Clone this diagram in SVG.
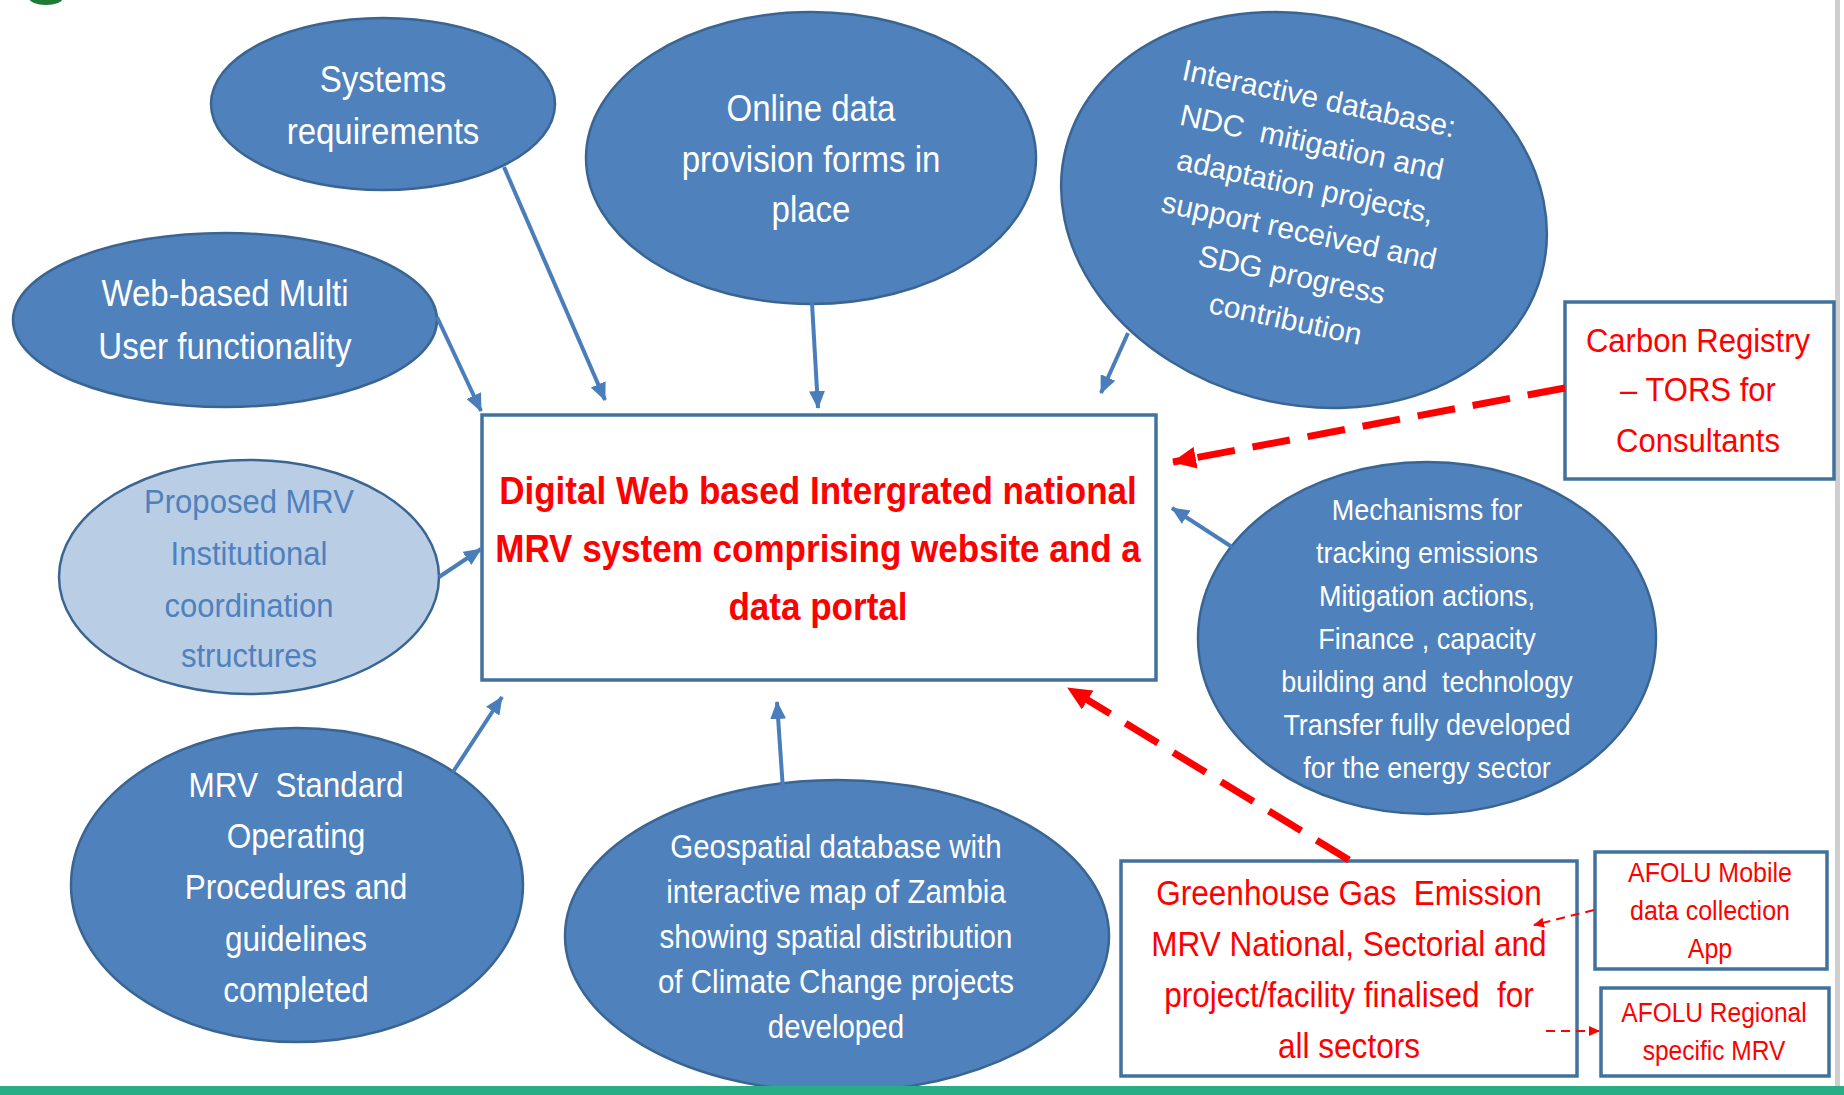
<svg xmlns="http://www.w3.org/2000/svg" width="1844" height="1095" viewBox="0 0 1844 1095">
<style>
text{font-family:"Liberation Sans",Arial,sans-serif;text-anchor:middle}
.bl{fill:#4f81bd;stroke:#3a6592;stroke-width:2.5}
.lt{fill:#b9cde5;stroke:#3a6592;stroke-width:2.5}
.w{fill:#ffffff}
.lb{fill:#4f81bd}
.bx{fill:#ffffff;stroke:#41719c;stroke-width:3.5}
.r{fill:#ff0000}
.ca{stroke:#4a7ebb;stroke-width:4;fill:none;marker-end:url(#ab)}
.rd{stroke:#ff0000;stroke-width:7;fill:none;stroke-dasharray:38 18;marker-end:url(#ar)}
.rs{stroke:#ff0000;stroke-width:2;fill:none;stroke-dasharray:9 6;marker-end:url(#as)}
</style>
<defs>
<marker id="ab" markerUnits="userSpaceOnUse" markerWidth="18" markerHeight="16" refX="17" refY="8" orient="auto"><path d="M0,0 L18,8 L0,16 Z" fill="#4a7ebb"/></marker>
<marker id="ar" markerUnits="userSpaceOnUse" markerWidth="24" markerHeight="22" refX="23" refY="11" orient="auto"><path d="M0,0 L24,11 L0,22 Z" fill="#ff0000"/></marker>
<marker id="as" markerUnits="userSpaceOnUse" markerWidth="11" markerHeight="10" refX="10" refY="5" orient="auto"><path d="M0,0 L11,5 L0,10 Z" fill="#ff0000"/></marker>
</defs>
<rect width="1844" height="1095" fill="#ffffff"/>
<ellipse cx="46" cy="-2" rx="17" ry="7" fill="#1f7a35"/>
<rect x="1835" y="0" width="5" height="1086" fill="#cfcfcf"/>

<g id="systems">
<ellipse class="bl" cx="383" cy="104" rx="172" ry="86"/>
<text class="w" font-size="36.3" transform="matrix(0.91 0 0 1 34.47 0)"><tspan x="383" y="92">Systems</tspan><tspan x="383" y="144">requirements</tspan></text>
</g>
<g id="online">
<ellipse class="bl" cx="811" cy="158" rx="225" ry="146"/>
<text class="w" font-size="36.3" transform="matrix(0.91 0 0 1 72.99 0)"><tspan x="811" y="121">Online data</tspan><tspan x="811" y="172">provision forms in</tspan><tspan x="811" y="222">place</tspan></text>
</g>
<g id="interactive">
<ellipse class="bl" cx="1304" cy="210" rx="246" ry="194" transform="rotate(15 1304 210)"/>
<text class="w" font-size="30" transform="rotate(12 1302 208)" xml:space="preserve"><tspan x="1296" y="107.5">Interactive database:</tspan><tspan x="1298" y="152">NDC  mitigation and</tspan><tspan x="1301" y="196.5">adaptation projects,</tspan><tspan x="1304" y="241">support received and</tspan><tspan x="1306" y="285.5">SDG progress</tspan><tspan x="1309" y="330">contribution</tspan></text>
</g>
<g id="webbased">
<ellipse class="bl" cx="225" cy="320" rx="212" ry="87"/>
<text class="w" font-size="36.3" transform="matrix(0.91 0 0 1 20.25 0)"><tspan x="225" y="306">Web-based Multi</tspan><tspan x="225" y="359">User functionality</tspan></text>
</g>
<g id="proposed">
<ellipse class="lt" cx="249" cy="577" rx="190" ry="117"/>
<text class="lb" font-size="34.1" transform="matrix(0.91 0 0 1 22.41 0)"><tspan x="249" y="513">Proposed MRV</tspan><tspan x="249" y="565">Institutional</tspan><tspan x="249" y="617">coordination</tspan><tspan x="249" y="667">structures</tspan></text>
</g>
<g id="mrvstandard">
<ellipse class="bl" cx="297" cy="885" rx="226" ry="157"/>
<text class="w" font-size="34.65" transform="matrix(0.91 0 0 1 26.64 0)" xml:space="preserve"><tspan x="296" y="797">MRV  Standard</tspan><tspan x="296" y="848">Operating</tspan><tspan x="296" y="899">Procedures and</tspan><tspan x="296" y="951">guidelines</tspan><tspan x="296" y="1002">completed</tspan></text>
</g>
<g id="geospatial">
<ellipse class="bl" cx="837" cy="936" rx="272" ry="156"/>
<text class="w" font-size="32.45" transform="matrix(0.91 0 0 1 75.24 0)"><tspan x="836" y="858">Geospatial database with</tspan><tspan x="836" y="903">interactive map of Zambia</tspan><tspan x="836" y="948">showing spatial distribution</tspan><tspan x="836" y="993">of Climate Change projects</tspan><tspan x="836" y="1038">developed</tspan></text>
</g>
<g id="mechanisms">
<ellipse class="bl" cx="1427" cy="638" rx="229" ry="176"/>
<text class="w" font-size="29.7" transform="matrix(0.91 0 0 1 128.43 0)" xml:space="preserve"><tspan x="1427" y="520">Mechanisms for</tspan><tspan x="1427" y="563">tracking emissions</tspan><tspan x="1427" y="606">Mitigation actions,</tspan><tspan x="1427" y="649">Finance , capacity</tspan><tspan x="1427" y="692">building and  technology</tspan><tspan x="1427" y="735">Transfer fully developed</tspan><tspan x="1427" y="778">for the energy sector</tspan></text>
</g>
<g id="main">
<rect class="bx" x="482" y="415" width="674" height="265"/>
<text class="r" font-size="38.5" font-weight="bold" transform="matrix(0.91 0 0 1 73.62 0)"><tspan x="818" y="504">Digital Web based Intergrated national</tspan><tspan x="818" y="562">MRV system comprising website and a</tspan><tspan x="818" y="620">data portal</tspan></text>
</g>
<g id="carbon">
<rect class="bx" x="1565" y="302" width="269" height="177"/>
<text class="r" font-size="34.1" transform="matrix(0.91 0 0 1 152.82 0)"><tspan x="1698" y="352">Carbon Registry</tspan><tspan x="1698" y="401">– TORS for</tspan><tspan x="1698" y="452">Consultants</tspan></text>
</g>
<g id="ghg">
<rect class="bx" x="1121" y="861" width="456" height="215"/>
<text class="r" font-size="34.65" transform="matrix(0.91 0 0 1 121.41 0)" xml:space="preserve"><tspan x="1349" y="905">Greenhouse Gas  Emission</tspan><tspan x="1349" y="956">MRV National, Sectorial and</tspan><tspan x="1349" y="1007">project/facility finalised  for</tspan><tspan x="1349" y="1058">all sectors</tspan></text>
</g>
<g id="afolu-mobile">
<rect class="bx" x="1595" y="852" width="232" height="117"/>
<text class="r" font-size="27.5" transform="matrix(0.91 0 0 1 153.9 0)"><tspan x="1710" y="882">AFOLU Mobile</tspan><tspan x="1710" y="920">data collection</tspan><tspan x="1710" y="958">App</tspan></text>
</g>
<g id="afolu-regional">
<rect class="bx" x="1601" y="988" width="228" height="88"/>
<text class="r" font-size="26.95" transform="matrix(0.91 0 0 1 154.26 0)"><tspan x="1714" y="1022">AFOLU Regional</tspan><tspan x="1714" y="1060">specific MRV</tspan></text>
</g>

<g id="connectors">
<line class="ca" x1="504" y1="167" x2="605" y2="400"/>
<line class="ca" x1="437" y1="317" x2="481" y2="411"/>
<line class="ca" x1="812" y1="303" x2="818" y2="408"/>
<line class="ca" x1="1128" y1="333" x2="1101" y2="393"/>
<line class="ca" x1="439" y1="577" x2="481" y2="549"/>
<line class="ca" x1="453" y1="772" x2="502" y2="697"/>
<line class="ca" x1="783" y1="790" x2="777" y2="702"/>
<line class="ca" x1="1232" y1="547" x2="1172" y2="508"/>
<line class="rd" x1="1565" y1="388" x2="1173" y2="462"/>
<line class="rd" x1="1349" y1="860" x2="1068" y2="688"/>
<line class="rs" x1="1594" y1="910" x2="1534" y2="925"/>
<line class="rs" x1="1546" y1="1031" x2="1599" y2="1031"/>
</g>
<rect x="0" y="1086" width="1844" height="9" fill="#27ae87"/>
</svg>
